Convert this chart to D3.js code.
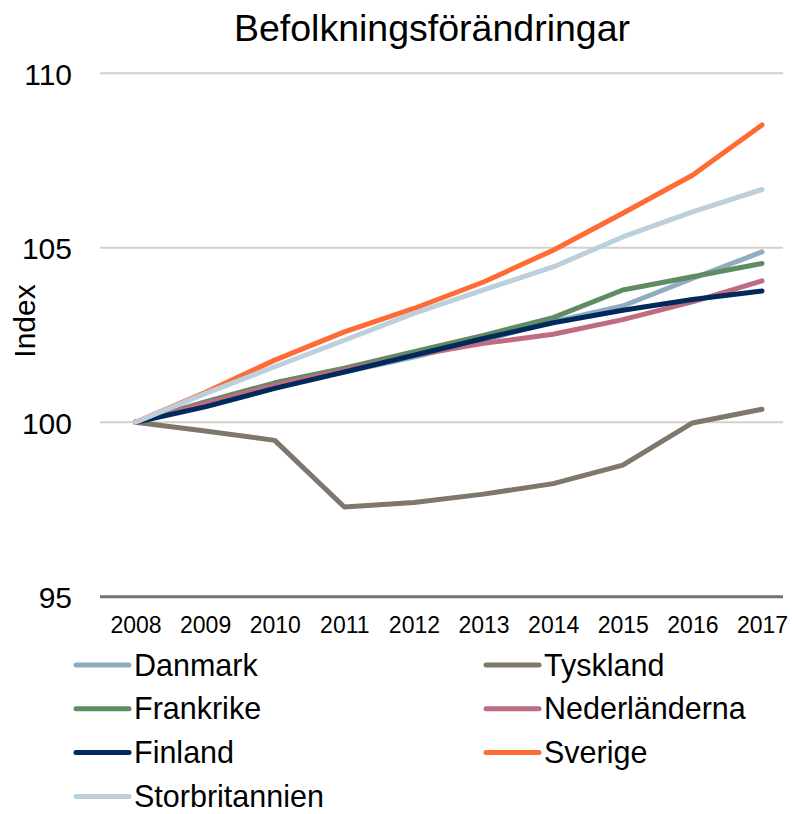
<!DOCTYPE html>
<html>
<head>
<meta charset="utf-8">
<script src="https://cdn.jsdelivr.net/npm/d3@7"></script>
<style>
  body { margin: 0; background: #fff; }
  text { font-family: Arial, "Liberation Sans", sans-serif; fill: #000; }
</style>
</head>
<body>
<div id="chart"></div>
<script>
const years = [2008, 2009, 2010, 2011, 2012, 2013, 2014, 2015, 2016, 2017];
const yTicks = [95, 100, 105, 110];

const danmark = [100, 100.54, 101.06, 101.44, 101.87, 102.35, 102.88, 103.33, 104.12, 104.88];
const tyskland = [100, 99.75, 99.48, 97.57, 97.70, 97.94, 98.24, 98.77, 99.98, 100.37];
const frankrike = [100, 100.58, 101.13, 101.55, 102.02, 102.49, 103.0, 103.79, 104.17, 104.55];
const nederlanderna = [100, 100.54, 101.06, 101.49, 101.92, 102.26, 102.52, 102.94, 103.45, 104.05];
const finland = [100, 100.44, 100.97, 101.44, 101.92, 102.40, 102.85, 103.21, 103.52, 103.76];
const sverige = [100, 100.85, 101.78, 102.59, 103.26, 104.02, 104.93, 105.99, 107.08, 108.52];
const storbritannien = [100, 100.82, 101.59, 102.35, 103.12, 103.79, 104.45, 105.31, 106.03, 106.67];

const series = [
  { name: "Danmark", values: danmark, color: "#8facc0" },
  { name: "Tyskland", values: tyskland, color: "#7f766c" },
  { name: "Frankrike", values: frankrike, color: "#5f8c63" },
  { name: "Nederländerna", values: nederlanderna, color: "#c06b80" },
  { name: "Finland", values: finland, color: "#002a5c" },
  { name: "Sverige", values: sverige, color: "#ff6b35" },
  { name: "Storbritannien", values: storbritannien, color: "#bccfdc" }
];

const width = 792;
const height = 814;

const svg = d3.select("#chart")
  .append("svg")
  .attr("width", width)
  .attr("height", height);

const x = d3.scalePoint().domain(years).range([135.5, 762]);
const y = d3.scaleLinear().domain([95, 110]).range([596.7, 73.3]);

// title
svg.append("text")
  .attr("x", 432)
  .attr("y", 41)
  .attr("text-anchor", "middle")
  .style("font-size", "37.5px")
  .text("Befolkningsförändringar");

// gridlines
svg.append("g")
  .selectAll("line")
  .data(yTicks.filter((d) => d !== 95))
  .enter()
  .append("line")
  .attr("x1", 100)
  .attr("x2", 783)
  .attr("y1", (d) => y(d))
  .attr("y2", (d) => y(d))
  .attr("stroke", "#d4d0cb")
  .attr("stroke-width", 2);

// y axis labels
const yAxis = svg.append("g")
  .attr("transform", "translate(100,0)")
  .call(d3.axisLeft(y).tickValues(yTicks).tickSize(0).tickPadding(28));
yAxis.select(".domain").remove();
yAxis.selectAll("text")
  .style("font-size", "30px")
  .attr("dy", "0.36em");

svg.append("text")
  .attr("transform", "translate(35,321) rotate(-90)")
  .attr("text-anchor", "middle")
  .style("font-size", "30px")
  .text("Index");

// x axis
svg.append("line")
  .attr("x1", 100)
  .attr("x2", 783)
  .attr("y1", y(95))
  .attr("y2", y(95))
  .attr("stroke", "#7a716b")
  .attr("stroke-width", 3);

const xAxis = svg.append("g")
  .attr("transform", "translate(0," + y(95) + ")")
  .call(d3.axisBottom(x).tickSize(0).tickPadding(20).tickFormat(d3.format("d")));
xAxis.select(".domain").remove();
xAxis.selectAll("text")
  .style("font-size", "23px")
  .attr("dy", "0.71em");

// lines
const line = d3.line()
  .x((d, i) => x(years[i]))
  .y((d) => y(d));

svg.append("g")
  .selectAll("path")
  .data(series)
  .enter()
  .append("path")
  .attr("d", (d) => line(d.values))
  .attr("fill", "none")
  .attr("stroke", (d) => d.color)
  .attr("stroke-width", 5)
  .attr("stroke-linejoin", "round")
  .attr("stroke-linecap", "round");

// legend, two columns
const legend = svg.append("g")
  .selectAll("g")
  .data(series)
  .enter()
  .append("g")
  .attr("transform", (d, i) =>
    "translate(" + (i % 2 === 0 ? 76 : 486) + "," + (665 + Math.floor(i / 2) * 43.8) + ")");

legend.append("line")
  .attr("x1", 0)
  .attr("x2", 53)
  .attr("stroke", (d) => d.color)
  .attr("stroke-width", 5)
  .attr("stroke-linecap", "round");

legend.append("text")
  .attr("x", 58)
  .attr("dy", "0.35em")
  .style("font-size", "30.5px")
  .text((d) => d.name);
</script>
</body>
</html>
